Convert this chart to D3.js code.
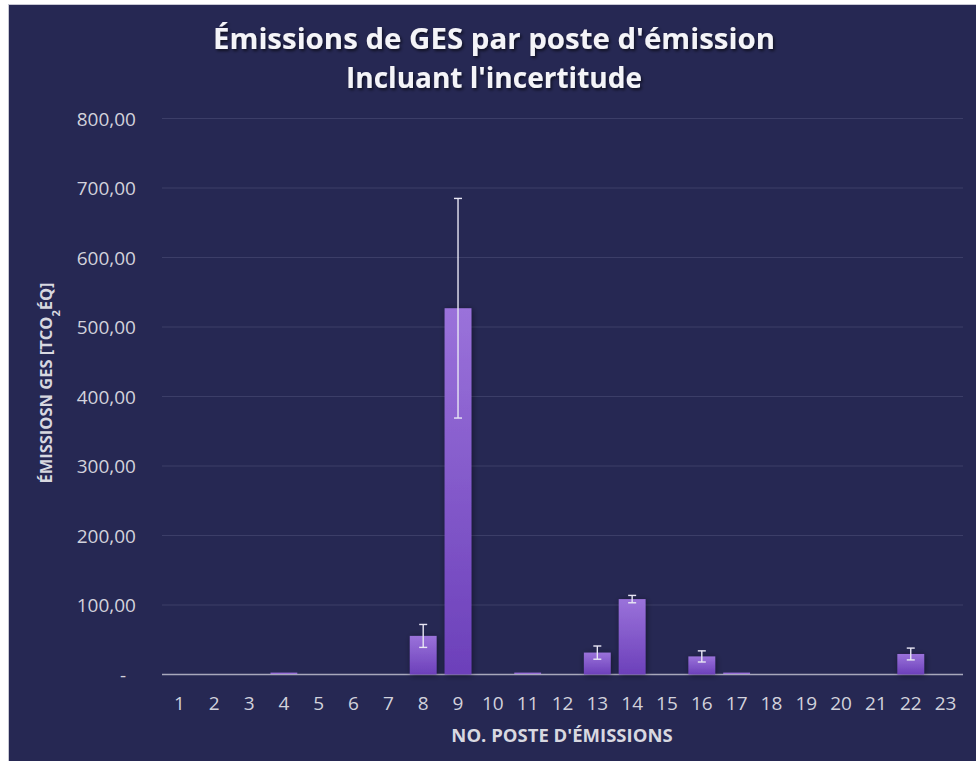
<!DOCTYPE html>
<html>
<head>
<meta charset="utf-8">
<script src="https://cdn.jsdelivr.net/npm/d3@7"></script>
<style>
  html, body { margin: 0; padding: 0; background: #ffffff; }
  svg { display: block; }
</style>
</head>
<body>
<div id="chart"></div>
<script>
// ---- Data ----
const categories = ["1","2","3","4","5","6","7","8","9","10","11","12","13","14","15","16","17","18","19","20","21","22","23"];
const values     = [0, 0, 0, 2, 0, 0, 0, 55.5, 527, 0, 2, 0, 31.5, 108.5, 0, 26, 2, 0, 0, 0, 0, 29.5, 0];
const errors     = [0, 0, 0, 0, 0, 0, 0, 16.5, 158, 0, 0, 0, 9.5, 5.3, 0, 8, 0, 0, 0, 0, 0, 8.5, 0];
const yTicks     = [0, 100, 200, 300, 400, 500, 600, 700, 800];
const titleLines = ["Émissions de GES par poste d'émission", "Incluant l'incertitude"];
const xTitle     = "NO. POSTE D'ÉMISSIONS";

// ---- Layout ----
const W = 976, H = 761;
const panel = { x: 9, y: 5 };
const plot = { left: 162, right: 963, top: 118.5, bottom: 674.5 };

const svg = d3.select("#chart").append("svg")
  .attr("width", W).attr("height", H);

const defs = svg.append("defs");
const grad = defs.append("linearGradient").attr("id", "barGrad")
  .attr("x1", 0).attr("y1", 0).attr("x2", 0).attr("y2", 1);
grad.append("stop").attr("offset", "0%").attr("stop-color", "#9a72da");
grad.append("stop").attr("offset", "100%").attr("stop-color", "#6c40ba");

const shadow = defs.append("filter").attr("id", "barShadow")
  .attr("x", "-50%").attr("y", "-50%").attr("width", "200%").attr("height", "200%");
shadow.append("feDropShadow").attr("dx", 1).attr("dy", 1).attr("stdDeviation", 3)
  .attr("flood-color", "#000000").attr("flood-opacity", 0.45);

const tshadow = defs.append("filter").attr("id", "textShadow")
  .attr("x", "-10%").attr("y", "-30%").attr("width", "120%").attr("height", "160%");
tshadow.append("feDropShadow").attr("dx", 1.5).attr("dy", 2).attr("stdDeviation", 1.5)
  .attr("flood-color", "#000000").attr("flood-opacity", 0.6);

// panel background
svg.append("rect").attr("x", panel.x - 1).attr("y", panel.y - 1)
  .attr("width", W - panel.x + 1).attr("height", H - panel.y + 1)
  .attr("fill", "#c8c8d4");
svg.append("rect").attr("x", panel.x).attr("y", panel.y)
  .attr("width", W - panel.x).attr("height", H - panel.y)
  .attr("fill", "#262853");

// ---- Scales ----
const x = d3.scaleBand().domain(categories)
  .range([plot.left, plot.right]).paddingInner(0.23).paddingOuter(0.115);
const y = d3.scaleLinear().domain([0, 800]).range([plot.bottom, plot.top]);

// gridlines
svg.append("g").selectAll("line").data(yTicks.filter(d => d > 0)).join("line")
  .attr("x1", plot.left).attr("x2", plot.right)
  .attr("y1", d => y(d)).attr("y2", d => y(d))
  .attr("stroke", "#3c3e68").attr("stroke-width", 1.2);

// baseline
svg.append("line")
  .attr("x1", plot.left).attr("x2", plot.right)
  .attr("y1", y(0)).attr("y2", y(0))
  .attr("stroke", "#a8a8bc").attr("stroke-width", 1.5);

// Y axis labels
const fmt = d => d === 0 ? "-\u00a0\u00a0" :
  d3.format(".2f")(d).replace(".", ",");
const yAxis = d3.axisLeft(y).tickValues(yTicks).tickFormat(fmt).tickSize(0).tickPadding(0);
const gy = svg.append("g").attr("transform", `translate(${136},0)`).call(yAxis);
gy.select(".domain").remove();
gy.selectAll("text")
  .attr("fill", "#d2d2dc")
  .style("font-family", "'Open Sans', sans-serif")
  .style("font-size", "19px")
  .attr("dy", "0.36em");

// bars
svg.append("g").selectAll("rect").data(values.map((v, i) => ({ c: categories[i], v })))
  .join("rect")
  .attr("x", d => x(d.c))
  .attr("width", x.bandwidth())
  .attr("y", d => y(d.v) - (d.v > 0 && d.v < 5 ? 0.5 : 0))
  .attr("height", d => y(0) - y(d.v))
  .attr("fill", d => d.v > 5 ? "url(#barGrad)" : "#9a72da")
  .attr("filter", d => d.v > 5 ? "url(#barShadow)" : null);

// error bars
const eb = svg.append("g").attr("stroke", "#e8e6f4").attr("stroke-width", 1.4);
values.forEach((v, i) => {
  const e = errors[i];
  if (!e) return;
  const cx = x(categories[i]) + x.bandwidth() / 2;
  eb.append("line").attr("x1", cx).attr("x2", cx).attr("y1", y(v + e)).attr("y2", y(v - e));
  eb.append("line").attr("x1", cx - 4).attr("x2", cx + 4).attr("y1", y(v + e)).attr("y2", y(v + e));
  eb.append("line").attr("x1", cx - 4).attr("x2", cx + 4).attr("y1", y(v - e)).attr("y2", y(v - e));
});

// X axis labels
const xAxis = d3.axisBottom(x).tickSize(0).tickPadding(0);
const gx = svg.append("g").attr("transform", `translate(0,${710})`).call(xAxis);
gx.select(".domain").remove();
gx.selectAll("text")
  .attr("fill", "#d2d2dc")
  .attr("dy", "0")
  .attr("y", 0)
  .style("font-family", "'Open Sans', sans-serif")
  .style("font-size", "19px");

// Title
const titleWidths = [562, 296];
const title = svg.append("g").attr("filter", "url(#textShadow)");
titleLines.forEach((t, i) => {
  title.append("text")
    .attr("x", 494).attr("y", 49 + i * 39)
    .attr("text-anchor", "middle")
    .attr("fill", "#f4f4f8")
    .attr("textLength", titleWidths[i])
    .attr("lengthAdjust", "spacingAndGlyphs")
    .style("font-family", "'Open Sans', sans-serif")
    .style("font-weight", "700")
    .style("font-size", "28px")
    .text(t);
});

// X axis title
svg.append("text")
  .attr("x", 562).attr("y", 742)
  .attr("text-anchor", "middle")
  .attr("fill", "#d8d8e0")
  .style("font-family", "'Open Sans', sans-serif")
  .style("font-weight", "700")
  .style("font-size", "18.5px")
  .text(xTitle);

// Y axis title
const yt = svg.append("text")
  .attr("transform", "translate(52,383) rotate(-90)")
  .attr("text-anchor", "middle")
  .attr("fill", "#d8d8e0")
  .style("font-family", "'Open Sans', sans-serif")
  .style("font-weight", "700")
  .style("font-size", "16.5px");
yt.append("tspan").text("ÉMISSIOSN GES [TCO");
yt.append("tspan").attr("baseline-shift", "sub").style("font-size", "11px").text("2");
yt.append("tspan").text("ÉQ]");
</script>
</body>
</html>
